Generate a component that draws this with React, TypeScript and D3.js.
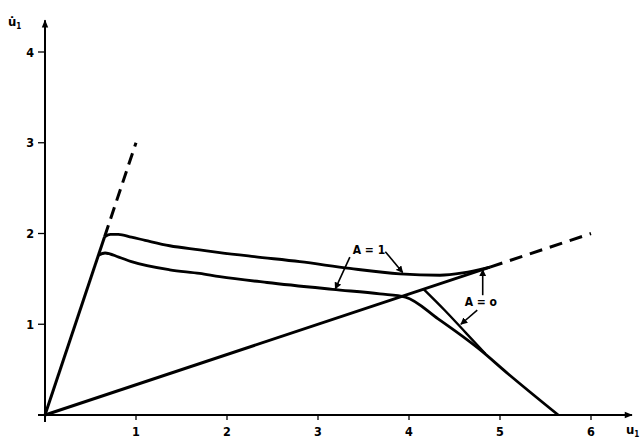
import * as d3 from "d3";

type Pt = [number, number];

// values (u1, u1-dot)
const steepSolid: Pt[] = [[0, 0], [0.655, 1.965]];
const steepDashed: Pt[] = [[0.655, 1.965], [1.0, 3.0]];
const shallowSolid: Pt[] = [[0, 0], [4.89, 1.63]];
const shallowDashed: Pt[] = [[4.89, 1.63], [6.0, 2.0]];

const upperCurve: Pt[] = [
  [0.655, 1.965], [0.72, 1.99], [0.805, 1.99], [0.95, 1.96], [1.1, 1.925],
  [1.37, 1.865], [1.7, 1.82], [1.92, 1.79], [2.3, 1.745], [2.8, 1.69],
  [3.35, 1.615], [3.9, 1.555], [4.34, 1.54], [4.59, 1.565], [4.89, 1.63],
];

const lowerCurve: Pt[] = [
  [0.587, 1.76], [0.66, 1.785], [0.81, 1.74], [0.95, 1.69], [1.37, 1.6],
  [1.7, 1.56], [1.92, 1.525], [2.44, 1.46], [3.16, 1.385], [3.68, 1.335],
  [3.96, 1.3], [4.32, 1.06], [4.78, 0.72], [5.07, 0.47], [5.64, 0],
];

const branchCurve: Pt[] = [
  [4.16, 1.387], [4.4, 1.146], [4.63, 0.9], [4.84, 0.675],
];

const xTicks = [1, 2, 3, 4, 5, 6];
const yTicks = [1, 2, 3, 4];

// annotation arrows: [from, to]
const arrowsA1: [Pt, Pt][] = [
  [[3.35, 1.74], [3.19, 1.39]],
  [[3.74, 1.8], [3.93, 1.57]],
];
const arrowsA0: [Pt, Pt][] = [
  [[4.81, 1.32], [4.81, 1.6]],
  [[4.75, 1.155], [4.57, 1.0]],
];
const labelA1: Pt = [3.56, 1.77];
const labelA0: Pt = [4.79, 1.2];

const WIDTH = 641;
const HEIGHT = 440;
const FONT = "'DejaVu Sans Condensed', 'DejaVu Sans', sans-serif";

export default function App() {
  const x = d3.scaleLinear().domain([0, 6]).range([45, 591]);
  const y = d3.scaleLinear().domain([0, 4]).range([415, 52]);

  const straight = d3
    .line<Pt>()
    .x((d) => x(d[0]))
    .y((d) => y(d[1]));

  const smooth = d3
    .line<Pt>()
    .x((d) => x(d[0]))
    .y((d) => y(d[1]))
    .curve(d3.curveMonotoneX);

  const x0 = x(0);
  const y0 = y(0);

  return (
    <svg
      width={WIDTH}
      height={HEIGHT}
      style={{ position: "absolute", left: 0, top: 0, background: "#fff" }}
    >
      <defs>
        <marker
          id="head"
          viewBox="0 0 10 10"
          refX="9"
          refY="5"
          markerWidth="7"
          markerHeight="7"
          markerUnits="userSpaceOnUse"
          orient="auto"
        >
          <path d="M0,0 L10,5 L0,10 z" fill="#000" />
        </marker>
        <marker
          id="axisHead"
          viewBox="0 0 10 10"
          refX="9"
          refY="5"
          markerWidth="9"
          markerHeight="8"
          markerUnits="userSpaceOnUse"
          orient="auto"
        >
          <path d="M0,1 L10,5 L0,9 z" fill="#000" />
        </marker>
      </defs>

      {/* axes */}
      <line
        x1={x0 - 7}
        x2={x(6.45)}
        y1={y0}
        y2={y0}
        stroke="#000"
        strokeWidth={2}
        markerEnd="url(#axisHead)"
      />
      <line
        x1={x0}
        x2={x0}
        y1={y0 + 7}
        y2={y(4.35)}
        stroke="#000"
        strokeWidth={2}
        markerEnd="url(#axisHead)"
      />

      {xTicks.map((t) => (
        <g key={`x${t}`}>
          <line x1={x(t)} x2={x(t)} y1={y0} y2={y0 + 5} stroke="#000" strokeWidth={1.3} />
          <text
            x={x(t)}
            y={y0 + 21}
            textAnchor="middle"
            fontFamily={FONT}
            fontWeight="bold"
            fontSize={12.5}
          >
            {t}
          </text>
        </g>
      ))}

      {yTicks.map((t) => (
        <g key={`y${t}`}>
          <line x1={x0 - 7} x2={x0} y1={y(t)} y2={y(t)} stroke="#000" strokeWidth={1.3} />
          <text
            x={x0 - 11}
            y={y(t)}
            dy="0.36em"
            textAnchor="end"
            fontFamily={FONT}
            fontWeight="bold"
            fontSize={12.5}
          >
            {t}
          </text>
        </g>
      ))}

      {/* axis titles */}
      <text x={8} y={26} fontFamily={FONT} fontWeight="bold" fontSize={13}>
        {"u\u0307"}
        <tspan fontSize={8} dy={3}>1</tspan>
      </text>
      <text x={626} y={434} fontFamily={FONT} fontWeight="bold" fontSize={13}>
        u
        <tspan fontSize={8} dy={3}>1</tspan>
      </text>

      {/* reference lines */}
      <path d={straight(steepSolid) ?? ""} fill="none" stroke="#000" strokeWidth={3} />
      <path
        d={straight(steepDashed) ?? ""}
        fill="none"
        stroke="#000"
        strokeWidth={3}
        strokeDasharray="12,7"
      />
      <path d={straight(shallowSolid) ?? ""} fill="none" stroke="#000" strokeWidth={3} />
      <path
        d={straight(shallowDashed) ?? ""}
        fill="none"
        stroke="#000"
        strokeWidth={3}
        strokeDasharray="13,8"
      />

      {/* curves */}
      <path d={smooth(upperCurve) ?? ""} fill="none" stroke="#000" strokeWidth={2.8} />
      <path d={smooth(lowerCurve) ?? ""} fill="none" stroke="#000" strokeWidth={2.8} />
      <path d={smooth(branchCurve) ?? ""} fill="none" stroke="#000" strokeWidth={2.4} />

      {/* annotations */}
      {[...arrowsA1, ...arrowsA0].map(([a, b], i) => (
        <line
          key={`ar${i}`}
          x1={x(a[0])}
          y1={y(a[1])}
          x2={x(b[0])}
          y2={y(b[1])}
          stroke="#000"
          strokeWidth={1.6}
          markerEnd="url(#head)"
        />
      ))}
      <text
        x={x(labelA1[0])}
        y={y(labelA1[1])}
        textAnchor="middle"
        fontFamily={FONT}
        fontWeight="bold"
        fontSize={12}
      >
        A = 1
      </text>
      <text
        x={x(labelA0[0])}
        y={y(labelA0[1])}
        textAnchor="middle"
        fontFamily={FONT}
        fontWeight="bold"
        fontSize={12}
      >
        A = o
      </text>
    </svg>
  );
}
